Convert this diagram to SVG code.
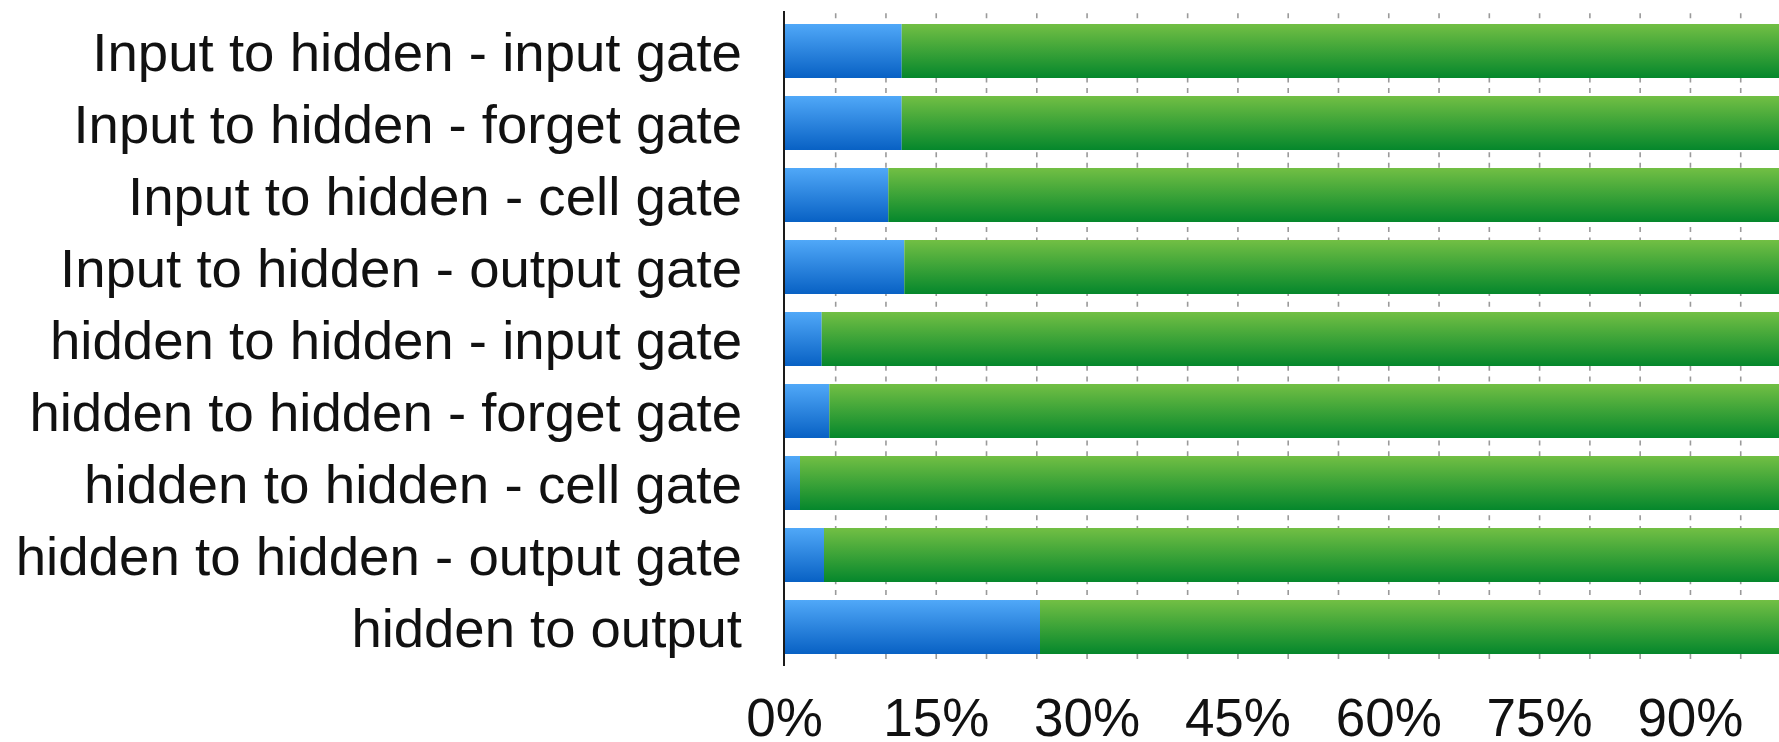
<svg xmlns="http://www.w3.org/2000/svg" width="1779" height="742" viewBox="0 0 1779 742">
<style>
.lbl{font-family:"Liberation Sans",Arial,Helvetica,sans-serif;font-size:54px;fill:#111;text-anchor:end}
.tick{font-family:"Liberation Sans",Arial,Helvetica,sans-serif;font-size:53px;fill:#111;text-anchor:middle}
.grid{stroke:#9a9a9a;stroke-width:1.6;stroke-dasharray:5 5.68}
.blue{fill:url(#gb)}
.green{fill:url(#gg)}
</style>
<defs>
<linearGradient id="gb" x1="0" y1="0" x2="0" y2="1">
<stop offset="0" stop-color="#50a8f8"/>
<stop offset="1" stop-color="#0861c4"/>
</linearGradient>
<linearGradient id="gg" x1="0" y1="0" x2="0" y2="1">
<stop offset="0" stop-color="#72bf44"/>
<stop offset="1" stop-color="#05872c"/>
</linearGradient>
</defs>
<rect width="1779" height="742" fill="#fff"/>
<g id="gridlines">
<line class="grid" x1="835.68" y1="13.3" x2="835.68" y2="662"/>
<line class="grid" x1="885.96" y1="13.3" x2="885.96" y2="662"/>
<line class="grid" x1="936.24" y1="13.3" x2="936.24" y2="662"/>
<line class="grid" x1="986.52" y1="13.3" x2="986.52" y2="662"/>
<line class="grid" x1="1036.8" y1="13.3" x2="1036.8" y2="662"/>
<line class="grid" x1="1087.08" y1="13.3" x2="1087.08" y2="662"/>
<line class="grid" x1="1137.36" y1="13.3" x2="1137.36" y2="662"/>
<line class="grid" x1="1187.64" y1="13.3" x2="1187.64" y2="662"/>
<line class="grid" x1="1237.92" y1="13.3" x2="1237.92" y2="662"/>
<line class="grid" x1="1288.2" y1="13.3" x2="1288.2" y2="662"/>
<line class="grid" x1="1338.48" y1="13.3" x2="1338.48" y2="662"/>
<line class="grid" x1="1388.76" y1="13.3" x2="1388.76" y2="662"/>
<line class="grid" x1="1439.04" y1="13.3" x2="1439.04" y2="662"/>
<line class="grid" x1="1489.32" y1="13.3" x2="1489.32" y2="662"/>
<line class="grid" x1="1539.6" y1="13.3" x2="1539.6" y2="662"/>
<line class="grid" x1="1589.88" y1="13.3" x2="1589.88" y2="662"/>
<line class="grid" x1="1640.16" y1="13.3" x2="1640.16" y2="662"/>
<line class="grid" x1="1690.44" y1="13.3" x2="1690.44" y2="662"/>
<line class="grid" x1="1740.72" y1="13.3" x2="1740.72" y2="662"/>
</g>
<g id="row1"><rect class="blue" x="785" y="24" width="116.7" height="54"/><rect class="green" x="901.7" y="24" width="890" height="54"/><text class="lbl" x="742" y="70.5" textLength="649.7" lengthAdjust="spacingAndGlyphs">Input to hidden - input gate</text></g>
<g id="row2"><rect class="blue" x="785" y="96" width="116.7" height="54"/><rect class="green" x="901.7" y="96" width="890" height="54"/><text class="lbl" x="742" y="142.5" textLength="668.5" lengthAdjust="spacingAndGlyphs">Input to hidden - forget gate</text></g>
<g id="row3"><rect class="blue" x="785" y="168" width="103.3" height="54"/><rect class="green" x="888.3" y="168" width="900" height="54"/><text class="lbl" x="742" y="214.5" textLength="614" lengthAdjust="spacingAndGlyphs">Input to hidden - cell gate</text></g>
<g id="row4"><rect class="blue" x="785" y="240" width="119.3" height="54"/><rect class="green" x="904.3" y="240" width="890" height="54"/><text class="lbl" x="742" y="286.5" textLength="682" lengthAdjust="spacingAndGlyphs">Input to hidden - output gate</text></g>
<g id="row5"><rect class="blue" x="785" y="312" width="36.7" height="54"/><rect class="green" x="821.7" y="312" width="970" height="54"/><text class="lbl" x="742" y="358.5" textLength="692" lengthAdjust="spacingAndGlyphs">hidden to hidden - input gate</text></g>
<g id="row6"><rect class="blue" x="785" y="384" width="44.3" height="54"/><rect class="green" x="829.3" y="384" width="960" height="54"/><text class="lbl" x="742" y="430.5" textLength="712.6" lengthAdjust="spacingAndGlyphs">hidden to hidden - forget gate</text></g>
<g id="row7"><rect class="blue" x="785" y="456" width="15" height="54"/><rect class="green" x="800" y="456" width="990" height="54"/><text class="lbl" x="742" y="502.5" textLength="658" lengthAdjust="spacingAndGlyphs">hidden to hidden - cell gate</text></g>
<g id="row8"><rect class="blue" x="785" y="528" width="39" height="54"/><rect class="green" x="824" y="528" width="970" height="54"/><text class="lbl" x="742" y="574.5" textLength="726.3" lengthAdjust="spacingAndGlyphs">hidden to hidden - output gate</text></g>
<g id="row9"><rect class="blue" x="785" y="600" width="255" height="54"/><rect class="green" x="1040" y="600" width="750" height="54"/><text class="lbl" x="742" y="646.5" textLength="390.6" lengthAdjust="spacingAndGlyphs">hidden to output</text></g>
<g id="axis">
<line x1="784" y1="11" x2="784" y2="666" stroke="#1a1a1a" stroke-width="2"/>
<text class="tick" x="784.5" y="736">0%</text>
<text class="tick" x="936.24" y="736">15%</text>
<text class="tick" x="1087.08" y="736">30%</text>
<text class="tick" x="1237.92" y="736">45%</text>
<text class="tick" x="1388.76" y="736">60%</text>
<text class="tick" x="1539.6" y="736">75%</text>
<text class="tick" x="1690.44" y="736">90%</text>
</g>
</svg>
